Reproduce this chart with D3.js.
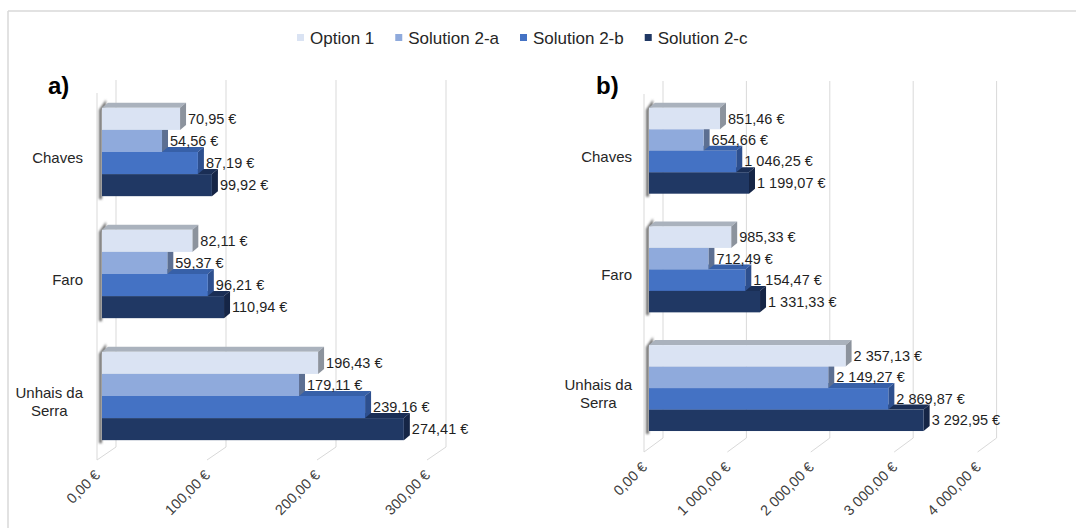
<!DOCTYPE html>
<html>
<head>
<meta charset="utf-8">
<script src="https://cdn.jsdelivr.net/npm/d3@7"></script>
<style>
  body { margin: 0; background: #fff; }
  svg { font-family: "Liberation Sans", Arial, sans-serif; }
</style>
</head>
<body>
<div class="chart"></div>
<script>
// --- Data ---
const categories = ["Chaves", "Faro", "Unhais da Serra"];
const series = ["Option 1", "Solution 2-a", "Solution 2-b", "Solution 2-c"];

// a) values per category, one entry per series
const valuesA = [
  [70.95, 54.56, 87.19, 99.92],
  [82.11, 59.37, 96.21, 110.94],
  [196.43, 179.11, 239.16, 274.41]
];
// b) values per category, one entry per series
const valuesB = [
  [851.46, 654.66, 1046.25, 1199.07],
  [985.33, 712.49, 1154.47, 1331.33],
  [2357.13, 2149.27, 2869.87, 3292.95]
];
const ticksA = [0, 100, 200, 300];
const ticksB = [0, 1000, 2000, 3000, 4000];

// --- Style ---
const width = 1076, height = 528;
const frontColor = ["#dae3f3", "#8faadc", "#4472c4", "#203864"];
const topColor   = ["#aab2bd", "#6d84ad", "#3760a8", "#1a2e55"];
const sideColor  = ["#8c939d", "#5c6f92", "#2d4f8e", "#152546"];
const depth = { dx: 6, dy: -5 };      // bar depth offset
const wall = { back: 14, front: -5 }; // grid wall offsets from bar front

const euro = d3.formatLocale({ decimal: ",", thousands: " ", grouping: [3], currency: ["", " €"] });
const fmt = euro.format("$,.2f");

const svg = d3.select(".chart").append("svg")
  .attr("width", width)
  .attr("height", height);

const defs = svg.append("defs");
defs.append("filter").attr("id", "blur")
  .attr("x", "-100%").attr("width", "300%")
  .append("feGaussianBlur").attr("stdDeviation", 1.1);

// chart border (top + left only)
svg.append("line").attr("x1", 8).attr("x2", width).attr("y1", 11).attr("y2", 11)
  .attr("stroke", "#d9d9d9").attr("stroke-width", 1.5);
svg.append("line").attr("x1", 8).attr("x2", 8).attr("y1", 11).attr("y2", height)
  .attr("stroke", "#d9d9d9").attr("stroke-width", 1.5);

// --- Legend ---
const legend = svg.append("g").attr("class", "legend");
let lx = 297;
series.forEach((s, i) => {
  legend.append("rect")
    .attr("x", lx).attr("y", 34).attr("width", 7).attr("height", 7)
    .attr("fill", frontColor[i]);
  const t = legend.append("text")
    .attr("x", lx + 13).attr("y", 38)
    .attr("dominant-baseline", "central")
    .attr("font-size", 17).attr("fill", "#262626")
    .text(s);
  lx += 13 + t.node().getComputedTextLength() + 21;
});

// --- Panel drawing ---
function drawPanel(cfg) {
  const g = svg.append("g");

  const x = d3.scaleLinear().domain(cfg.domain).range(cfg.xRange);
  const y = d3.scaleBand().domain(categories).range(cfg.yRange)
    .paddingInner(0.276).paddingOuter(0.138);
  const yIn = d3.scaleBand().domain(series).range([0, y.bandwidth()]);
  const h = yIn.bandwidth();

  // title
  g.append("text")
    .attr("x", cfg.titleX).attr("y", 94)
    .attr("font-size", 24).attr("font-weight", "bold").attr("fill", "#000")
    .text(cfg.title);

  // gridlines on back wall + floor diagonals
  const grid = g.append("g").attr("stroke", "#d9d9d9").attr("fill", "none");
  cfg.ticks.forEach(t => {
    const bx = x(t) + wall.back, fx = x(t) + wall.front;
    grid.append("path")
      .attr("d", `M${bx},${cfg.gridTop}V${cfg.floorBack}L${fx},${cfg.floorFront}`);
  });
  // side wall front edge
  grid.append("line")
    .attr("x1", x(0) + wall.front).attr("x2", x(0) + wall.front)
    .attr("y1", cfg.gridTop + 13).attr("y2", cfg.floorFront);

  // tick labels
  g.append("g").selectAll("text").data(cfg.ticks).join("text")
    .attr("transform", d => `translate(${x(d) + wall.front + 4},${cfg.floorFront + 16}) rotate(-45)`)
    .attr("text-anchor", "end")
    .attr("font-size", 14.5).attr("fill", "#404040")
    .text(d => fmt(d));

  // bars
  categories.forEach((c, ci) => {
    const gy = y(c);
    const cg = g.append("g");
    const x0 = x(0);

    // shadow on left side of group
    cg.append("path")
      .attr("d", `M${x0 - 3},${gy + 2}L${x0 + 4},${gy - 8}L${x0 + 4},${gy - 2}L${x0},${gy + 2}V${gy + y.bandwidth() + 3}H${x0 - 3}Z`)
      .attr("fill", "#6f6f6f")
      .attr("filter", "url(#blur)");

    // draw bottom series first so upper front faces overlap lower top faces
    series.slice().reverse().forEach(s => {
      const si = series.indexOf(s);
      const v = cfg.values[ci][si];
      const by = gy + yIn(s);
      const x1 = x(v);
      cg.append("path")
        .attr("d", `M${x0},${by}L${x0 + depth.dx},${by + depth.dy}H${x1 + depth.dx}L${x1},${by}Z`)
        .attr("fill", topColor[si]);
      cg.append("path")
        .attr("d", `M${x1},${by}L${x1 + depth.dx},${by + depth.dy}V${by + h + depth.dy}L${x1},${by + h}Z`)
        .attr("fill", sideColor[si]);
      cg.append("rect")
        .attr("x", x0).attr("y", by)
        .attr("width", x1 - x0).attr("height", h)
        .attr("fill", frontColor[si]);
    });
  });

  // value labels
  categories.forEach((c, ci) => {
    series.forEach((s, si) => {
      const v = cfg.values[ci][si];
      g.append("text")
        .attr("x", x(v) + depth.dx + 2)
        .attr("y", y(c) + yIn(s) + h / 2)
        .attr("dominant-baseline", "central")
        .attr("font-size", 14.5).attr("fill", "#1f1f1f")
        .text(fmt(v));
    });
  });

  // category labels (wrapped, block right-aligned, lines centred)
  categories.forEach(c => {
    const words = c.split(" ");
    const lines = words.length > 2 ? [words.slice(0, 2).join(" "), words.slice(2).join(" ")] : [c];
    const t = g.append("text")
      .attr("font-size", 15).attr("fill", "#262626")
      .attr("text-anchor", "middle")
      .attr("dominant-baseline", "central");
    lines.forEach(l => t.append("tspan").text(l));
    const w = d3.max(t.selectAll("tspan").nodes(), n => n.getComputedTextLength());
    const cx = cfg.labelRight - w / 2;
    const cy = y(c) + y.bandwidth() / 2 + 5;
    t.selectAll("tspan")
      .attr("x", cx)
      .attr("y", (d, i, n) => cy + (i - (n.length - 1) / 2) * 18);
  });
}

drawPanel({
  title: "a)", titleX: 48,
  values: valuesA, ticks: ticksA,
  domain: [0, 300], xRange: [102, 432],
  yRange: [91, 457],
  gridTop: 80, floorBack: 447, floorFront: 460,
  labelRight: 83
});

drawPanel({
  title: "b)", titleX: 596,
  values: valuesB, ticks: ticksB,
  domain: [0, 4000], xRange: [649, 982.6],
  yRange: [91.4, 447.4],
  gridTop: 81, floorBack: 438, floorFront: 452,
  labelRight: 632
});
</script>
</body>
</html>
